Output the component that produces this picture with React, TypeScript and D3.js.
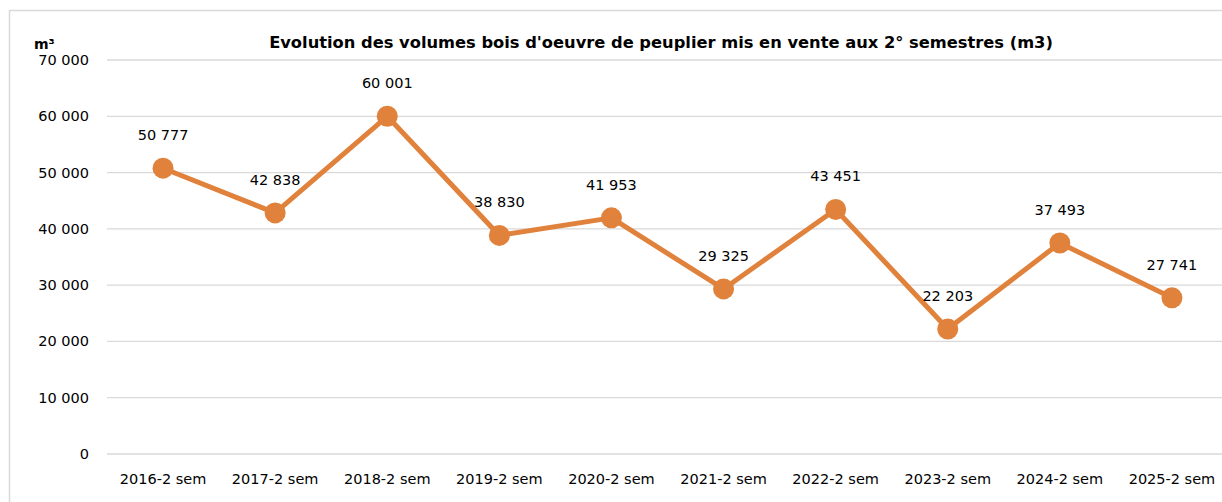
import React from "react";
import * as d3 from "d3";

const categories = ["2016-2 sem","2017-2 sem","2018-2 sem","2019-2 sem","2020-2 sem","2021-2 sem","2022-2 sem","2023-2 sem","2024-2 sem","2025-2 sem"];
const volumes = [50777, 42838, 60001, 38830, 41953, 29325, 43451, 22203, 37493, 27741];
const yTicks = [0, 10000, 20000, 30000, 40000, 50000, 60000, 70000];
const title = "Evolution des volumes bois d'oeuvre de peuplier mis en vente aux 2° semestres (m3)";
const unitLabel = "m³";

const fmt = (v: number) => {
  const s = String(v);
  return s.replace(/\B(?=(\d{3})+(?!\d))/g, " ");
};

export default function App() {
  const W = 1222, H = 502;
  const left = 107, right = 1228, top = 60, bottom = 454;
  const x = d3.scaleBand().domain(categories).range([left, right]);
  const y = d3.scaleLinear().domain([0, 70000]).range([bottom, top]);
  const cx = (c: string) => (x(c) as number) + x.bandwidth() / 2;
  const line = d3.line<number>().x((_, i) => cx(categories[i])).y(d => y(d));
  const color = "#E0823C";
  const font = "'DejaVu Sans', sans-serif";
  return (
    <svg width={W} height={H} style={{ position: "absolute", left: 0, top: 0, fontFamily: font }}>
      <rect x={0} y={0} width={W} height={H} fill="#fff" />
      <rect x={9.5} y={10.5} width={W + 20} height={H + 20} fill="none" stroke="#d9d9d9" strokeWidth={1.5} />
      <text x={661} y={48} textAnchor="middle" fontSize={16.3} fontWeight="bold" fill="#000">{title}</text>
      <text x={34} y={49} fontSize={14} fontWeight="bold" fill="#000">{unitLabel}</text>
      {yTicks.map(t => (
        <g key={t}>
          <line x1={left} x2={W} y1={y(t)} y2={y(t)} stroke="#d9d9d9" strokeWidth={1.3} />
          <text x={89} y={y(t) + 5} textAnchor="end" fontSize={14.5} fill="#000">{fmt(t)}</text>
        </g>
      ))}
      {categories.map(c => (
        <text key={c} x={cx(c)} y={bottom + 30} textAnchor="middle" fontSize={14.5} fill="#000">{c}</text>
      ))}
      <path d={line(volumes) || ""} fill="none" stroke={color} strokeWidth={5} strokeLinejoin="round" />
      {volumes.map((v, i) => (
        <circle key={i} cx={cx(categories[i])} cy={y(v)} r={10.5} fill={color} />
      ))}
      {volumes.map((v, i) => (
        <text key={"l" + i} x={cx(categories[i])} y={y(v) - 28} textAnchor="middle" fontSize={14.5} fill="#000">{fmt(v)}</text>
      ))}
    </svg>
  );
}
